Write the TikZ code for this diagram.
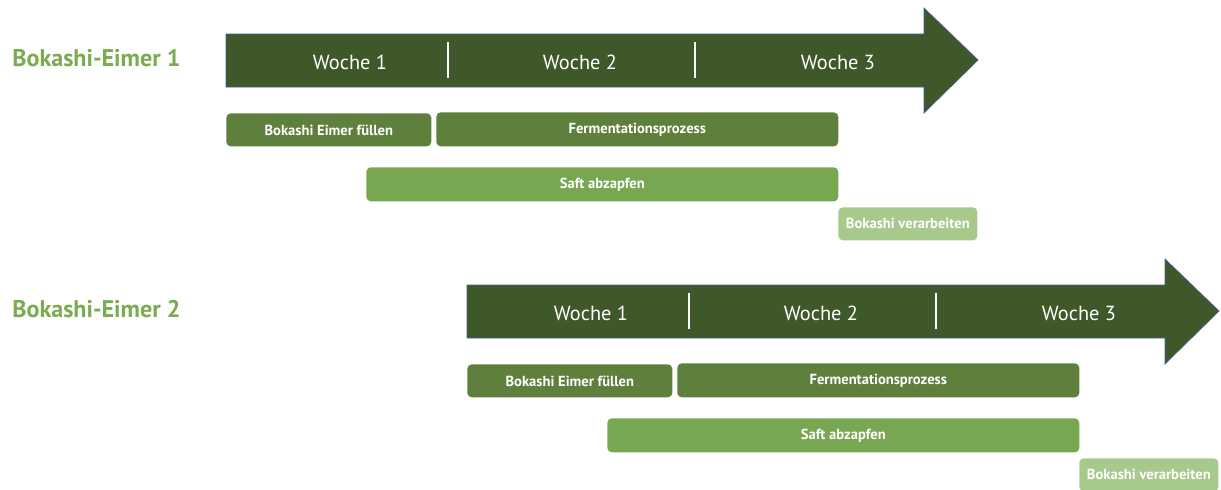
\documentclass[tikz,border=0pt]{standalone}
\usepackage{fontspec}
\setmainfont{PT Sans}
\usetikzlibrary{positioning}

\definecolor{pfeilgruen}{HTML}{3F582A}
\definecolor{pfeilrand}{HTML}{4A5E8C}
\definecolor{fuellgruen}{HTML}{5F7F3C}
\definecolor{saftgruen}{HTML}{78A751}
\definecolor{hellgruen}{HTML}{A8C98C}
\definecolor{titelgruen}{HTML}{7AAB4F}

\begin{document}
\begin{tikzpicture}[x=0.02cm,y=-0.02cm]
    \tikzstyle{every node}+=[inner sep=0pt]
    \tikzstyle{zeitpfeil}=[fill=pfeilgruen, draw=pfeilrand, line width=0.4pt]
    \tikzstyle{woche}=[text=white, font=\fontsize{11.6}{13}\selectfont]
    \tikzstyle{trenner}=[white, line width=0.8pt]
    \tikzstyle{balken}=[anchor=north west, rounded corners=2.5pt, text=white,
        font=\bfseries\fontsize{8.3}{10}\selectfont]
    \tikzstyle{titel}=[anchor=west, text=titelgruen, font=\bfseries\fontsize{13.7}{15}\selectfont]
    \useasboundingbox (0,0) rectangle (1221,490);
    \foreach \n/\dx/\dy in {1/0/0, 2/241/251} {
        \node [titel] (titel\n) at (12,58+\dy) {Bokashi-Eimer \n};
        \begin{scope}[shift={(\dx,\dy)}]
            % Zeitachse
            \draw [zeitpfeil] (226,34) -- (924,34) -- (924,8) -- (978,60)
                -- (924,113) -- (924,87) -- (226,87) -- cycle;
            \draw [trenner] (448,42) -- (448,78);
            \draw [trenner] (695,42) -- (695,78);
            \node [woche] (w\n a) at (350,62) {Woche 1};
            \node [woche] (w\n b) at (580,62) {Woche 2};
            \node [woche] (w\n c) at (838,62) {Woche 3};
            % Arbeitsschritte
            \node [balken, fill=fuellgruen, minimum width=4.1cm, minimum height=0.66cm]
                (fuellen\n) at (226,113) {Bokashi Eimer füllen};
            \node [balken, fill=fuellgruen, minimum width=8.04cm, minimum height=0.68cm]
                (ferment\n) at (436,112) {Fermentationsprozess};
            \node [balken, fill=saftgruen, minimum width=9.44cm, minimum height=0.68cm]
                (saft\n) at (366,167) {Saft abzapfen};
            \node [balken, fill=hellgruen, minimum width=2.78cm, minimum height=0.66cm]
                (verarb\n) at (838,207) {Bokashi verarbeiten};
        \end{scope}
    }
\end{tikzpicture}
\end{document}
